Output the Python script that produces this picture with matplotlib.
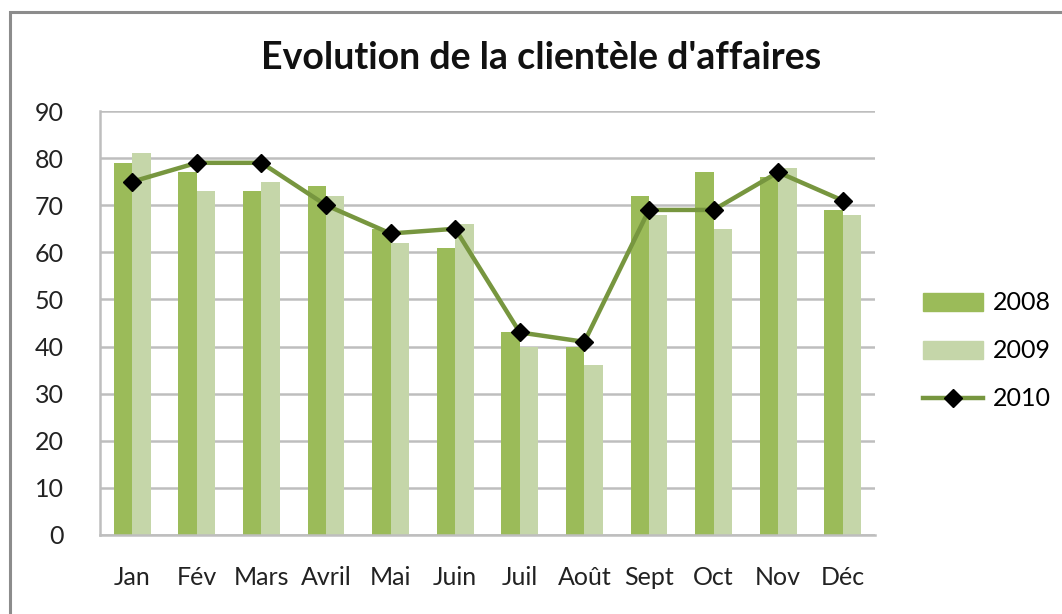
import matplotlib.pyplot as plt
import matplotlib.patches as mpatches
from matplotlib.lines import Line2D
import numpy as np

months = ["Jan", "Fév", "Mars", "Avril", "Mai", "Juin", "Juil", "Août", "Sept", "Oct", "Nov", "Déc"]
clients_2008 = [79, 77, 73, 74, 65, 61, 43, 40, 72, 77, 76, 69]
clients_2009 = [81, 73, 75, 72, 62, 66, 40, 36, 68, 65, 78, 68]
clients_2010 = [75, 79, 79, 70, 64, 65, 43, 41, 69, 69, 77, 71]

plt.rcParams['font.family'] = ['Lato', 'DejaVu Sans']

W, H = 1062, 614
fig = plt.figure(figsize=(W / 100, H / 100), dpi=100)
ax = fig.add_axes([100 / W, (H - 535) / H, 775 / W, 424 / H])

# outer chart frame (runs past the right/bottom edge like the screenshot)
fig.patches.append(mpatches.Rectangle((10 / W, -0.05), 1.2, (H - 12) / H + 0.05,
                                      transform=fig.transFigure, fill=False,
                                      edgecolor="#8c8c8c", linewidth=2.2))

x = np.arange(len(months))
bw = 0.285
ax.bar(x - bw / 2, clients_2008, bw, color="#9BBB59", zorder=2, label="2008")
ax.bar(x + bw / 2, clients_2009, bw, color="#C5D6A9", zorder=2, label="2009")
ax.plot(x, clients_2010, color="#77963F", linewidth=3.2, marker="D", markersize=9,
        markerfacecolor="black", markeredgecolor="black", zorder=3, label="2010")

ax.set_xlim(-0.5, len(months) - 0.5)
ax.set_ylim(0, 90)
ax.set_yticks(range(0, 91, 10))
ax.set_xticks(x)
ax.set_xticklabels(months)
ax.tick_params(axis="both", length=0, labelsize=18, colors="#222222")
ax.tick_params(axis="y", pad=26)
ax.tick_params(axis="x", pad=22)
ax.grid(axis="y", color="#BEBEBE", linewidth=1.8, zorder=0)
ax.set_axisbelow(True)
for side in ("top", "right"):
    ax.spines[side].set_visible(False)
for side in ("left", "bottom"):
    ax.spines[side].set_color("#BEBEBE")
    ax.spines[side].set_linewidth(1.8)

fig.text(541 / W, 1 - 58 / H, "Evolution de la clientèle d'affaires",
         ha="center", va="center", fontsize=27, fontweight="bold", color="#111111")

handles = [mpatches.Patch(color="#9BBB59"), mpatches.Patch(color="#C5D6A9"),
           Line2D([], [], color="#77963F", linewidth=3.2, marker="D", markersize=9,
                  markerfacecolor="black", markeredgecolor="black")]
fig.legend(handles, ["2008", "2009", "2010"], loc="center left",
           bbox_to_anchor=(900 / W, 1 - 351 / H), frameon=False, fontsize=18,
           handlelength=2.4, handleheight=0.7, labelspacing=1.0, handletextpad=0.4)

fig.savefig("out.png", dpi=100)
